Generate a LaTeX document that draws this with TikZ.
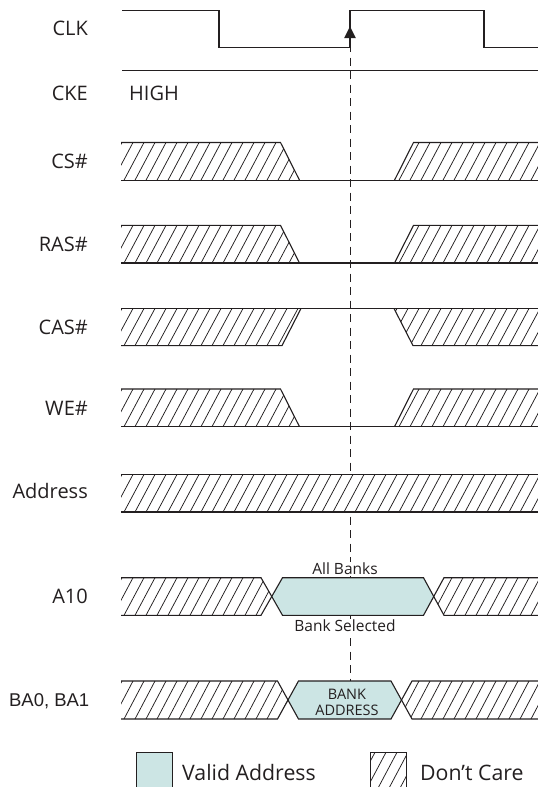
\documentclass[tikz,border=0pt]{standalone}
\usepackage{fontspec}
\setmainfont{Open Sans}
\newfontfamily\bafont{Liberation Sans}
\definecolor{ink}{RGB}{35,31,32}
\definecolor{validc}{RGB}{204,229,228}
\tikzset{
  sigline/.style={draw=ink, line width=1.1pt, line join=miter},
  hatchline/.style={draw=ink, line width=0.75pt},
  lbl/.style={anchor=east, inner sep=0pt, text=ink, font=\fontsize{20}{22}\selectfont},
  smalllbl/.style={inner sep=1.5pt, fill=white, text=ink, font=\fontsize{15.5}{17}\selectfont},
  legendlbl/.style={anchor=base west, inner sep=0pt, text=ink, font=\fontsize{21.3}{23}\selectfont},
  validbox/.style={fill=validc, draw=ink, line width=1pt},
  clkdash/.style={draw=ink, line width=1pt, dash pattern=on 8pt off 5.5pt}
}
% #1 top y, #2 bottom y, #3 clip path
\newcommand{\hatchfill}[3]{%
  \begin{scope}
    \clip #3;
    \fill[white] (0,#1) rectangle (600,#2);
    \foreach \hx in {80,91,...,570} \draw[hatchline] (\hx,#2) -- ({\hx+20},#1);
  \end{scope}}
\begin{document}
\begin{tikzpicture}[x=1pt,y=-1pt]
\useasboundingbox (0,0) rectangle (538,787);
\clip (0,0) rectangle (538,787);

% labels
\node[lbl] (clk) at (88,28) {CLK};
\node[lbl] (cke) at (88,93) {CKE};
\node[lbl,anchor=west] (high) at (129,93) {HIGH};
\node[lbl] (cs) at (88,161) {CS\#};
\node[lbl] (ras) at (88,244) {RAS\#};
\node[lbl] (cas) at (88,327) {CAS\#};
\node[lbl] (we) at (88,408) {WE\#};
\node[lbl] (addr) at (88,491) {Address};
\node[lbl] (a10) at (88,596) {A10};
\node[lbl,font=\bafont\fontsize{18.5}{20}\selectfont] (ba) at (89.5,701) {BA0, BA1};

% dashed reference line
\coordinate (dtop) at (350,44);
\coordinate (dbot) at (350,681);
\draw[clkdash] (dtop) -- (dbot);

% CLK
\draw[sigline] (122,10.5) -- (219,10.5) -- (219,47.3) -- (350,47.3) -- (350,10.5) -- (484,10.5) -- (484,47.3) -- (545,47.3);
\fill[ink] (350,26.5) -- (344.2,38) -- (355.8,38) -- cycle;

% CKE
\draw[sigline] (122,70.5) -- (545,70.5);

% CS#, RAS#, WE# : hatched -> low -> hatched
\foreach \T/\B in {142.5/180.2, 225.4/263, 389/426.7}{
  \hatchfill{\T}{\B}{(121,\T) -- (280.5,\T) -- (299.5,\B) -- (121,\B) -- cycle}
  \hatchfill{\T}{\B}{(394.5,\B) -- (413.5,\T) -- (560,\T) -- (560,\B) -- cycle}
  \draw[sigline] (121,\T) -- (280.5,\T) -- (299.5,\B);
  \draw[sigline] (121,\B) -- (545,\B);
  \draw[sigline] (394.5,\B) -- (413.5,\T) -- (545,\T);
}

% CAS# : hatched -> high -> hatched
\hatchfill{308.5}{345.6}{(121,308.5) -- (301,308.5) -- (282,345.6) -- (121,345.6) -- cycle}
\hatchfill{308.5}{345.6}{(394,308.5) -- (560,308.5) -- (560,345.6) -- (413,345.6) -- cycle}
\draw[sigline] (121,308.5) -- (545,308.5);
\draw[sigline] (121,345.6) -- (282,345.6) -- (301,308.5);
\draw[sigline] (394,308.5) -- (413,345.6) -- (545,345.6);

% Address
\hatchfill{474.5}{512}{(121,474.5) rectangle (560,512)}
\draw[sigline] (121,474.5) -- (545,474.5);
\draw[sigline] (121,512) -- (545,512);

% A10
\hatchfill{577.7}{615.3}{(121,577.7) -- (261,577.7) -- (271.75,596.5) -- (261,615.3) -- (121,615.3) -- cycle}
\hatchfill{577.7}{615.3}{(433.75,596.5) -- (444,577.7) -- (560,577.7) -- (560,615.3) -- (444,615.3) -- cycle}
\fill[validc] (271.75,596.5) -- (282.5,577.7) -- (423.5,577.7) -- (433.75,596.5) -- (423.5,615.3) -- (282.5,615.3) -- cycle;
\draw[sigline] (121,577.7) -- (261,577.7) -- (282.5,615.3) -- (423.5,615.3) -- (444,577.7) -- (545,577.7);
\draw[sigline] (121,615.3) -- (261,615.3) -- (282.5,577.7) -- (423.5,577.7) -- (444,615.3) -- (545,615.3);
\node[smalllbl] (allb) at (345,569) {All Banks};
\node[smalllbl] (bsel) at (345,626) {Bank Selected};

% BA0, BA1
\hatchfill{681}{719}{(121,681) -- (277.5,681) -- (288,700) -- (277.5,719) -- (121,719) -- cycle}
\hatchfill{681}{719}{(401.5,700) -- (412,681) -- (560,681) -- (560,719) -- (412,719) -- cycle}
\fill[validc] (288,700) -- (298.5,681) -- (391,681) -- (401.5,700) -- (391,719) -- (298.5,719) -- cycle;
\draw[sigline] (121,681) -- (277.5,681) -- (298.5,719) -- (391,719) -- (412,681) -- (545,681);
\draw[sigline] (121,719) -- (277.5,719) -- (298.5,681) -- (391,681) -- (412,719) -- (545,719);
\node[inner sep=0pt, text=ink, align=center, font=\fontsize{14.5}{16}\selectfont] (bankaddr) at (347,702) {BANK\\ADDRESS};

% legend
\draw[validbox] (136,752.3) rectangle (172,800);
\node[legendlbl] (lvalid) at (182,780) {Valid Address};
\hatchfill{752.3}{790}{(370.7,752.3) rectangle (406.7,800)}
\draw[ink, line width=1pt] (370.7,752.3) rectangle (406.7,800);
\node[legendlbl] (ldc) at (420,780) {Don’t Care};
\end{tikzpicture}
\end{document}
